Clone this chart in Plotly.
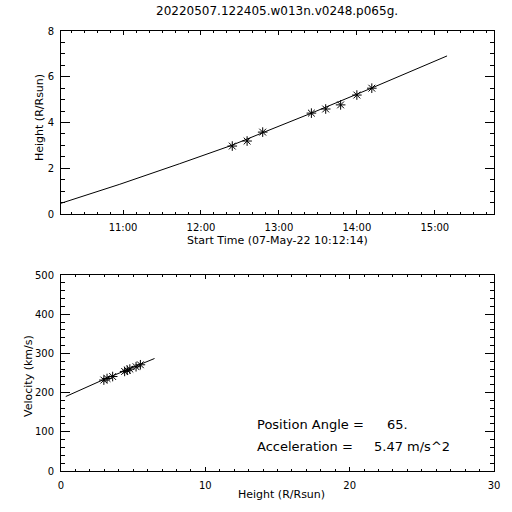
import plotly.graph_objects as go

W = H = 512

# ---------------- data ----------------
title_text = "20220507.122405.w013n.v0248.p065g."
start_time = "2022-05-07 10:12:14"
end_time = "2022-05-07 15:45:34"

# measured height-time points
obs_times = ["2022-05-07 12:24:05", "2022-05-07 12:35:30", "2022-05-07 12:47:30",
             "2022-05-07 13:25:00", "2022-05-07 13:36:00", "2022-05-07 13:47:30",
             "2022-05-07 14:00:00", "2022-05-07 14:11:30"]
obs_heights = [2.97, 3.19, 3.58, 4.41, 4.59, 4.77, 5.20, 5.50]

# fitted height-time curve
fit_times = ["2022-05-07 10:12:14", "2022-05-07 10:57:32", "2022-05-07 11:43:38",
             "2022-05-07 12:23:32", "2022-05-07 12:47:20", "2022-05-07 13:25:02",
             "2022-05-07 14:11:06", "2022-05-07 14:30:20", "2022-05-07 15:01:02",
             "2022-05-07 15:09:26"]
fit_heights = [0.47, 1.30, 2.20, 3.00, 3.55, 4.41, 5.50, 5.97, 6.72, 6.91]

# velocity vs height
vel_heights = obs_heights
vel_values = [232, 236, 241, 254, 257, 260, 266, 271]
vfit_heights = [0.33, 3.0, 6.48]
vfit_values = [190, 234, 287]

position_angle = "65."
acceleration = "5.47"

# ---------------- layout helpers ----------------
def px_x(p):
    return p / W

def px_y(p):
    return 1 - p / H

FONT = "DejaVu Sans"
tickfont = dict(family=FONT, size=10, color="black")

axis_common = dict(showline=True, linecolor="black", linewidth=1, mirror="ticks",
                   ticks="inside", tickcolor="black", tickwidth=1,
                   showgrid=False, zeroline=False, automargin=False,
                   tickfont=tickfont, fixedrange=True)

fig = go.Figure()

fig.add_trace(go.Scatter(x=fit_times, y=fit_heights, mode="lines",
                         line=dict(color="black", width=1), xaxis="x", yaxis="y",
                         showlegend=False))
fig.add_trace(go.Scatter(x=obs_times, y=obs_heights, mode="markers",
                         marker=dict(symbol="asterisk-open", size=8, color="black",
                                     line=dict(width=1, color="black")),
                         xaxis="x", yaxis="y", showlegend=False))
fig.add_trace(go.Scatter(x=vfit_heights, y=vfit_values, mode="lines",
                         line=dict(color="black", width=1), xaxis="x2", yaxis="y2",
                         showlegend=False))
fig.add_trace(go.Scatter(x=vel_heights, y=vel_values, mode="markers",
                         marker=dict(symbol="asterisk-open", size=8, color="black",
                                     line=dict(width=1, color="black")),
                         xaxis="x2", yaxis="y2", showlegend=False))

fig.update_layout(
    width=W, height=H, margin=dict(l=0, r=0, t=0, b=0),
    paper_bgcolor="white", plot_bgcolor="white", showlegend=False,
    hovermode=False,
    xaxis=dict(axis_common, domain=[px_x(61), px_x(494)], anchor="y",
               type="date", range=[start_time, end_time],
               tick0="2022-05-07 11:00:00", dtick=3600000, tickformat="%H:%M",
               ticklen=4, ticklabelstandoff=4,
               minor=dict(dtick=600000, tick0="2022-05-07 11:00:00", ticklen=2,
                          ticks="inside", tickcolor="black", tickwidth=1)),
    yaxis=dict(axis_common, domain=[px_y(214), px_y(31)], anchor="x",
               range=[0, 8], tick0=0, dtick=2, ticklen=9, ticklabelstandoff=4,
               minor=dict(dtick=0.5, ticklen=4, ticks="inside",
                          tickcolor="black", tickwidth=1)),
    xaxis2=dict(axis_common, domain=[px_x(61), px_x(494)], anchor="y2",
                range=[0, 30], tick0=0, dtick=10, ticklen=4, ticklabelstandoff=5,
                minor=dict(dtick=1, ticklen=2, ticks="inside",
                           tickcolor="black", tickwidth=1)),
    yaxis2=dict(axis_common, domain=[px_y(471), px_y(275)], anchor="x2",
                range=[0, 500], tick0=0, dtick=100, ticklen=9, ticklabelstandoff=4,
                minor=dict(dtick=20, ticklen=4, ticks="inside",
                           tickcolor="black", tickwidth=1)),
)

def ann(text, x, y, size=11, xanchor="center", yanchor="middle", angle=0):
    fig.add_annotation(text=text, x=px_x(x), y=px_y(y), xref="paper", yref="paper",
                       showarrow=False, xanchor=xanchor, yanchor=yanchor,
                       textangle=angle, font=dict(family=FONT, size=size, color="black"))

ann(title_text, 277, 11, size=12)
ann("Start Time (07-May-22 10:12:14)", 277, 240, size=11)
ann("Height (R/Rsun)", 39, 118, size=11, angle=-90)
ann("Height (R/Rsun)", 281, 494, size=11)
ann("Velocity (km/s)", 28, 376, size=11, angle=-90)
ann("Position Angle =", 255, 424, size=13, xanchor="left")
ann(position_angle, 385, 424, size=13, xanchor="left")
ann("Acceleration =", 255, 446, size=13, xanchor="left")
ann(acceleration + " m/s^2", 372, 446, size=13, xanchor="left")

# remove the default 8px page margin so the 512px figure fills the window
fig.write_html("out.html", config={"displayModeBar": False, "staticPlot": True},
               post_script="document.body.style.margin='0';")
